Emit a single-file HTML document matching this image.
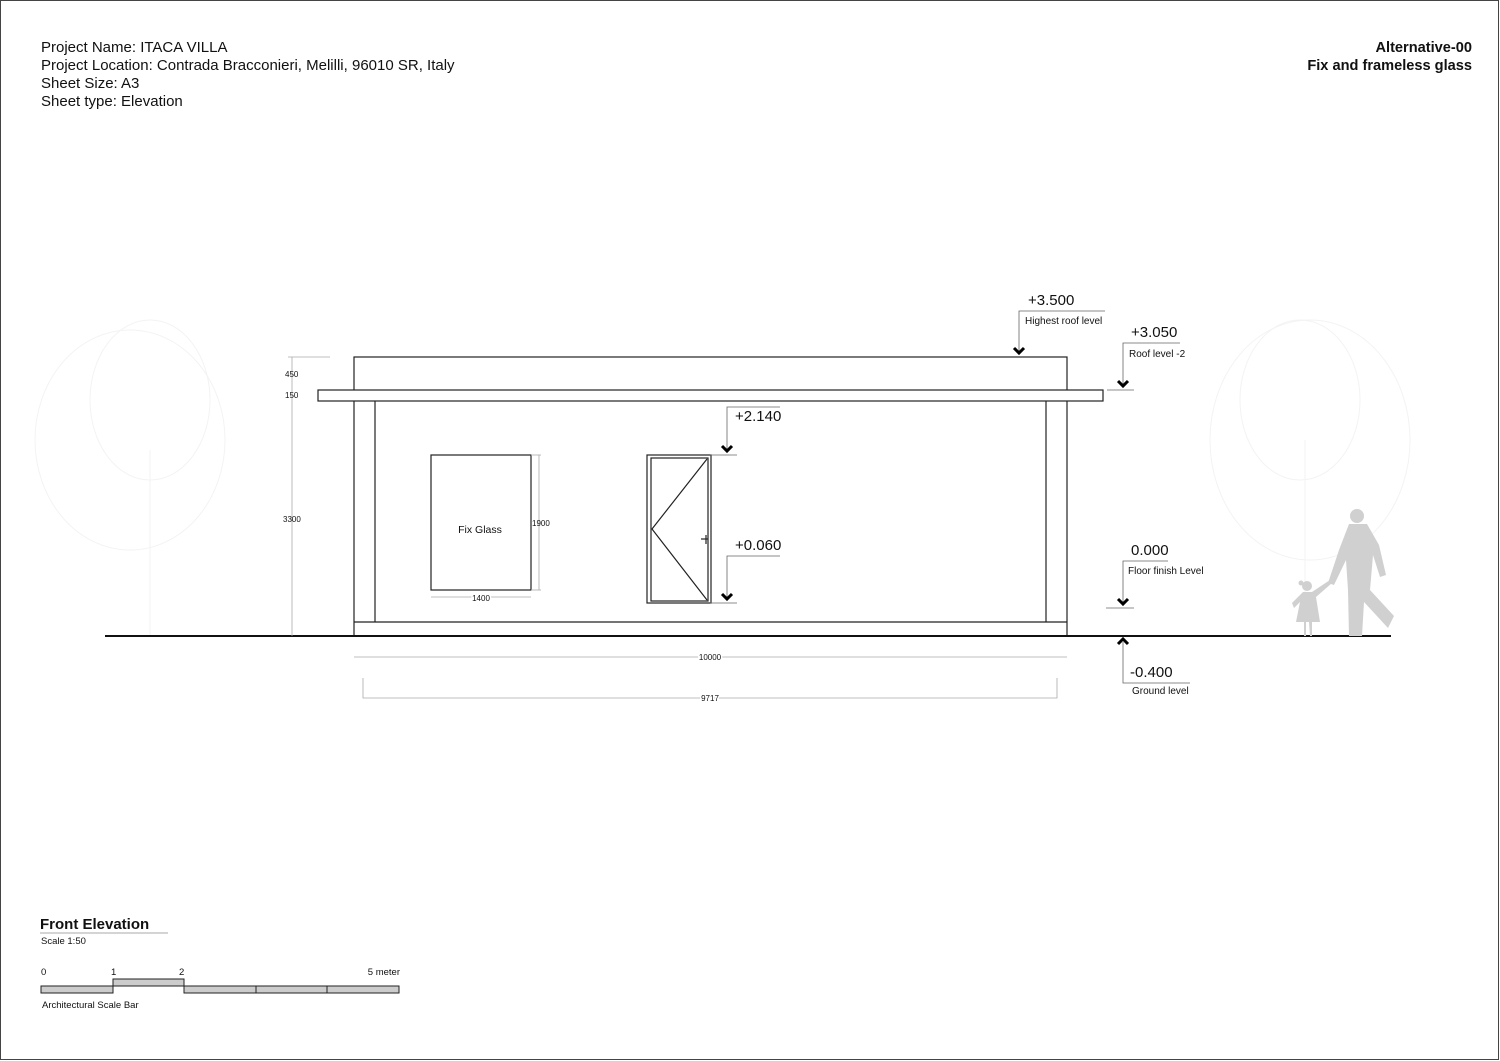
<!DOCTYPE html>
<html><head><meta charset="utf-8"><style>
html,body{margin:0;padding:0;background:#fff}
svg{display:block}
text{font-family:"Liberation Sans",Arial,sans-serif;fill:#111}
</style></head><body>
<svg width="1500" height="1061" viewBox="0 0 1500 1061" xmlns="http://www.w3.org/2000/svg">
<rect x="0.5" y="0.5" width="1498" height="1059" fill="#fff" stroke="#444" stroke-width="1"/>

<!-- header -->
<text x="41" y="52" font-size="15">Project Name: ITACA VILLA</text>
<text x="41" y="70" font-size="15">Project Location: Contrada Bracconieri, Melilli, 96010 SR, Italy</text>
<text x="41" y="88" font-size="15">Sheet Size: A3</text>
<text x="41" y="106" font-size="15">Sheet type: Elevation</text>
<text x="1472" y="52" font-size="14.6" font-weight="bold" text-anchor="end">Alternative-00</text>
<text x="1472" y="70" font-size="14.6" font-weight="bold" text-anchor="end">Fix and frameless glass</text>

<!-- faint trees -->
<g fill="none" stroke="#f3f3f3" stroke-width="1">
<ellipse cx="130" cy="440" rx="95" ry="110"/>
<ellipse cx="150" cy="400" rx="60" ry="80"/>
<line x1="150" y1="636" x2="150" y2="450"/>
<ellipse cx="1310" cy="440" rx="100" ry="120"/>
<ellipse cx="1300" cy="400" rx="60" ry="80"/>
<line x1="1305" y1="636" x2="1305" y2="440"/>
</g>

<!-- building -->
<g fill="none" stroke="#222" stroke-width="1.2">
<rect x="354" y="357" width="713" height="279"/>
<rect x="318" y="390" width="785" height="11" fill="#fff"/>
<line x1="375" y1="401" x2="375" y2="622"/>
<line x1="1046" y1="401" x2="1046" y2="622"/>
<line x1="354" y1="622" x2="1067" y2="622"/>
<rect x="431" y="455" width="100" height="135"/>
<rect x="647" y="455" width="64" height="148"/>
<rect x="651" y="458" width="57" height="143"/>
<polyline points="707,459 652,529 707,600"/>
<line x1="701" y1="539" x2="708" y2="539"/>
<line x1="706" y1="535" x2="706" y2="544"/>
</g>
<line x1="105" y1="636" x2="1391" y2="636" stroke="#111" stroke-width="2"/>
<text x="480" y="533" font-size="10.5" text-anchor="middle">Fix Glass</text>

<!-- dimensions -->
<g stroke="#aaa" stroke-width="0.8" fill="none">
<line x1="539" y1="455" x2="539" y2="590"/>
<line x1="531" y1="455" x2="541" y2="455"/>
<line x1="531" y1="590" x2="541" y2="590"/>
<line x1="431" y1="597" x2="531" y2="597"/>
<line x1="292" y1="357" x2="292" y2="636"/>
<line x1="288" y1="357" x2="330" y2="357"/>
<line x1="354" y1="657" x2="1067" y2="657"/>
<polyline points="363,678 363,698 1057,698 1057,678"/>
</g>
<g font-size="8" fill="#333">
<text x="532" y="526">1900</text>
<text x="481" y="601" text-anchor="middle" style="paint-order:stroke" stroke="#fff" stroke-width="3">1400</text>
<text x="285" y="377">450</text>
<text x="285" y="398">150</text>
<text x="283" y="522">3300</text>
<text x="710" y="660" text-anchor="middle" stroke="#fff" stroke-width="3" style="paint-order:stroke">10000</text>
<text x="710" y="701" text-anchor="middle" stroke="#fff" stroke-width="3" style="paint-order:stroke">9717</text>
</g>

<!-- level markers -->
<g stroke="#666" stroke-width="0.8" fill="none">
<polyline points="780,407 727,407 727,450"/>
<line x1="710" y1="455" x2="737" y2="455"/>
<polyline points="780,556 727,556 727,598"/>
<line x1="710" y1="603" x2="737" y2="603"/>
<polyline points="1105,311 1019,311 1019,352"/>
<polyline points="1180,343 1123,343 1123,385"/>
<line x1="1107" y1="390" x2="1134" y2="390"/>
<polyline points="1168,561 1123,561 1123,603"/>
<line x1="1106" y1="608" x2="1134" y2="608"/>
<polyline points="1123,642 1123,683 1190,683"/>
</g>
<g stroke="#000" stroke-width="3" fill="none">
<polyline points="722,446 727,451 732,446"/>
<polyline points="722,594 727,599 732,594"/>
<polyline points="1014,348 1019,353 1024,348"/>
<polyline points="1118,381 1123,386 1128,381"/>
<polyline points="1118,599 1123,604 1128,599"/>
<polyline points="1118,644 1123,639 1128,644"/>
</g>
<g font-size="15">
<text x="735" y="421">+2.140</text>
<text x="735" y="550">+0.060</text>
<text x="1028" y="305">+3.500</text>
<text x="1131" y="337">+3.050</text>
<text x="1131" y="555">0.000</text>
<text x="1130" y="677">-0.400</text>
</g>
<g font-size="10">
<text x="1025" y="324">Highest roof level</text>
<text x="1129" y="357">Roof level -2</text>
<text x="1128" y="574">Floor finish Level</text>
<text x="1132" y="694">Ground level</text>
</g>

<!-- people -->
<g fill="#d0d0d0">
<circle cx="1357" cy="516" r="7"/>
<path d="M1349,524 L1367,524 L1379,545 L1386,575 L1380,577 L1373,555 L1370,590 L1394,616 L1388,628 L1364,602 L1362,636 L1349,636 L1348,590 L1346,560 L1334,585 L1328,583 L1339,550 Z"/>
<circle cx="1307" cy="586" r="5"/>
<circle cx="1301" cy="583" r="2.5"/>
<path d="M1303,592 L1312,592 L1330,580 L1332,583 L1316,597 L1320,622 L1312,622 L1312,636 L1310,636 L1309,622 L1306,622 L1306,636 L1304,636 L1304,622 L1296,622 L1300,602 L1294,608 L1292,603 Z"/>
</g>

<!-- title + scale -->
<text x="40" y="929" font-size="15" font-weight="bold">Front Elevation</text>
<line x1="40" y1="933" x2="168" y2="933" stroke="#aaa" stroke-width="1"/>
<text x="41" y="944" font-size="9.5">Scale 1:50</text>
<g font-size="9.5">
<text x="41" y="975">0</text>
<text x="111" y="975">1</text>
<text x="179" y="975">2</text>
<text x="400" y="975" text-anchor="end">5 meter</text>
<text x="42" y="1008">Architectural Scale Bar</text>
</g>
<g fill="#ccc" stroke="#222" stroke-width="1">
<rect x="41" y="986" width="72" height="7"/>
<rect x="113" y="979" width="71" height="7"/>
<rect x="184" y="986" width="72" height="7"/>
<rect x="256" y="986" width="71" height="7"/>
<rect x="327" y="986" width="72" height="7"/>
</g>
</svg>
</body></html>
